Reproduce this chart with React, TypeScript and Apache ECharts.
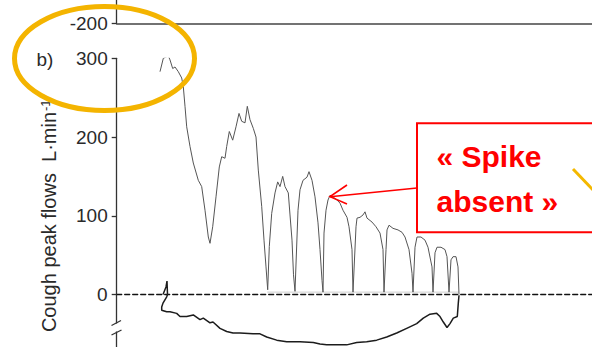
import React, { useEffect, useRef } from "react";
import * as echarts from "echarts";

// Tick values (main panel b and the bottom of panel a above it)
const flowTicks = [0, 100, 200, 300];
const upperPanelTicks = [-200];

// Cough (inspiratory -> expiratory) peak flow trace, time in arbitrary units (~10 ms)
const coughTime = [
  43.3, 46.6, 51.6, 53.3, 56, 58.3, 61.6, 65, 66.6, 68.3, 70, 73.3, 76.6, 81.6, 85, 88.3, 91.6, 93.3,
  96, 99.3, 102.6, 105, 108.3, 110, 112.6, 116, 119.3, 122.3, 125, 128.3, 130.6, 133.3, 136.6, 139.3,
  141.6, 145, 147.3, 149.3, 151, 152.6, 155, 158.3, 161, 163.3, 166, 168.3, 171.6, 173.3, 175.3, 176.8,
  178.3, 181.3, 183.3, 186.3, 190.3, 192.3, 195.3, 198.3, 201.3, 203.3, 205.3, 206.3, 207.3, 209.3,
  211.3, 213.3, 216.3, 220.3, 223.3, 226.3, 230.3, 232.3, 235.3, 236.3, 239.3, 240.3, 243.3, 246.3,
  248.3, 250.3, 255.3, 259.3, 263.3, 266.3, 267.3, 269.3, 270.3, 272.3, 276.3, 281.3, 285.3, 288.3,
  292.3, 295.3, 296.3, 298.3, 300.3, 304.3, 308.3, 311.3, 315.3, 316.3, 318.3, 320.3, 324.3, 328.3,
  330.3, 332.3, 334.3, 336.3, 339.3, 341.3, 342.3,
];
const coughFlow = [
  283, 300, 303, 298, 287, 289, 283, 275, 264, 239, 213, 188, 167, 145, 137, 107, 73, 65,
  86, 124, 162, 175, 173, 188, 207, 196, 213, 230, 220, 218, 239, 222, 211, 200,
  158, 112, 69, 35, 6, 61, 103, 129, 143, 137, 150, 137, 129, 101, 69, 25,
  4, 107, 133, 145, 149, 156, 145, 124, 91, 57, 18, 3, 78, 107,
  120, 126, 124, 120, 116, 107, 98, 86, 57, 3, 86, 97, 98, 101,
  105, 97, 92, 86, 78, 57, 3, 57, 82, 88, 84, 82, 79, 73,
  57, 27, 3, 60, 73, 73, 69, 60, 35, 3, 53, 60, 60, 57,
  48, 3, 44, 48, 48, 35, 0,
];

// Return (negative) flow trace below zero
const returnTime = [
  46.3, 49.3, 50.3, 50.8, 50, 46.3, 45, 45, 50, 53.3, 60, 63.3, 70, 73.3, 76.6, 83.3, 86.6, 93.3, 96.3,
  103.3, 110, 116.3, 123.3, 136.3, 143.3, 150, 160, 170, 183.3, 196.6, 203.3, 210, 223.3, 230, 240,
  250, 260, 270, 280, 290, 300, 306.6, 313.3, 320, 323.3, 326.6, 330.3, 333.3, 336.6, 340.6, 341.6, 342.3,
];
const returnFlow = [
  0, 9.5, 17, 0, -3, -11, -16, -20, -22, -22, -24, -28, -28, -27, -26, -32, -30, -36, -35,
  -43, -47, -49, -49, -50, -50, -54, -58, -60, -60, -61, -63, -64, -64, -64, -61,
  -60, -58, -54, -49, -43, -37, -30, -25, -24, -28, -35, -42, -37, -30, -28, -11, -1,
];

// faint zero-flow floor between coughs
const floorTime = [150.5, 342];
const floorFlow = [3, 3];

const FONT = "'Liberation Sans', Arial, Helvetica, sans-serif";
const INK = "#2a2a2a";

export default function App() {
  const ref = useRef<HTMLDivElement>(null);

  useEffect(() => {
    if (!ref.current) return;
    const chart = echarts.init(ref.current, undefined, { renderer: "svg" });
    const option: any = {
      animation: false,
      backgroundColor: "#ffffff",
      grid: [
        { left: 116.7, width: 475.3, top: 58.3, height: 314.9, outerBoundsMode: "none", containLabel: false },
        { left: 116.7, width: 475.3, top: -77, height: 100.3, outerBoundsMode: "none", containLabel: false },
      ],
      xAxis: [
        {
          type: "value",
          gridIndex: 0,
          min: 0,
          max: 475.3,
          axisLine: { show: true, onZero: true, lineStyle: { color: "#111", width: 1.3, type: [5, 3] } },
          axisTick: { show: false },
          axisLabel: { show: false },
          splitLine: { show: false },
        },
        {
          type: "value",
          gridIndex: 1,
          min: 0,
          max: 475.3,
          position: "bottom",
          axisLine: { show: true, onZero: false, lineStyle: { color: "#444", width: 1.5 } },
          axisTick: { show: false },
          axisLabel: { show: false },
          splitLine: { show: false },
        },
      ],
      yAxis: [
        {
          type: "value",
          gridIndex: 0,
          min: -100,
          max: 300,
          interval: 100,
          axisLine: { show: true, onZero: false, lineStyle: { color: "#333", width: 1.3 } },
          axisTick: { show: true, length: 5, lineStyle: { color: "#333", width: 1.3 } },
          axisLabel: {
            formatter: (v: number) => (flowTicks.includes(v) ? String(v) : ""),
            fontSize: 19,
            fontFamily: FONT,
            color: INK,
            margin: 9,
          },
          splitLine: { show: false },
          name: "Cough peak flows  L·min{sup|-1}",
          nameLocation: "middle",
          nameGap: 57,
          nameTextStyle: {
            fontSize: 20,
            fontFamily: FONT,
            color: INK,
            rich: {
              sup: { fontSize: 13, fontFamily: FONT, color: INK, verticalAlign: "top", padding: [0, 0, 8, 1] },
            },
          },
        },
        {
          type: "value",
          gridIndex: 1,
          min: -200,
          max: -100,
          interval: 100,
          axisLine: { show: true, onZero: false, lineStyle: { color: "#333", width: 1.3 } },
          axisTick: { show: true, length: 5, lineStyle: { color: "#333", width: 1.3 } },
          axisLabel: {
            formatter: (v: number) => (upperPanelTicks.includes(v) ? String(v) : ""),
            fontSize: 19,
            fontFamily: FONT,
            color: INK,
            margin: 9,
          },
          splitLine: { show: false },
        },
      ],
      series: [
        {
          type: "line",
          xAxisIndex: 0,
          yAxisIndex: 0,
          data: floorTime.map((t, i) => [t, floorFlow[i]]),
          symbol: "none",
          silent: true,
          lineStyle: { color: "#c4c4c4", width: 0.8 },
        },
        {
          type: "line",
          xAxisIndex: 0,
          yAxisIndex: 0,
          data: coughTime.map((t, i) => [t, coughFlow[i]]),
          symbol: "none",
          lineStyle: { color: "#555", width: 1 },
        },
        {
          type: "line",
          xAxisIndex: 0,
          yAxisIndex: 0,
          data: returnTime.map((t, i) => [t, returnFlow[i]]),
          symbol: "none",
          lineStyle: { color: "#1c1c1c", width: 1.5 },
        },
        {
          type: "line",
          xAxisIndex: 1,
          yAxisIndex: 1,
          data: [],
          symbol: "none",
        },
      ],
      graphic: [
        { type: "rect", z: 100, shape: { x: 113.5, y: 323.5, width: 6.5, height: 8 }, style: { fill: "#fff" } },
        { type: "line", z: 101, shape: { x1: 111.5, y1: 325.5, x2: 121, y2: 320.5 }, style: { stroke: "#333", lineWidth: 1.3 } },
        { type: "line", z: 101, shape: { x1: 111.5, y1: 335, x2: 121.5, y2: 330 }, style: { stroke: "#333", lineWidth: 1.3 } },
        {
          type: "text",
          z: 100,
          style: { text: "b)", x: 45, y: 59, align: "center", verticalAlign: "middle", fontSize: 19, fontFamily: FONT, fill: INK },
        },
        {
          type: "ellipse",
          z: 110,
          shape: { cx: 104.5, cy: 58.5, rx: 90, ry: 52 },
          style: { fill: "none", stroke: "#F4B400", lineWidth: 5 },
        },
        {
          type: "rect",
          z: 100,
          shape: { x: 417, y: 123.3, width: 200, height: 109 },
          style: { fill: "#fff", stroke: "#FF0000", lineWidth: 2 },
        },
        {
          type: "text",
          z: 101,
          style: { text: "« Spike", x: 436.5, y: 156.3, verticalAlign: "middle", fontSize: 30, fontWeight: "bold", fontFamily: FONT, fill: "#FF0000" },
        },
        {
          type: "text",
          z: 101,
          style: { text: "absent »", x: 436.5, y: 201.3, verticalAlign: "middle", fontSize: 30, fontWeight: "bold", fontFamily: FONT, fill: "#FF0000" },
        },
        { type: "line", z: 101, shape: { x1: 417, y1: 188, x2: 330, y2: 196.7 }, style: { stroke: "#FF0000", lineWidth: 1.6 } },
        {
          type: "polyline",
          z: 101,
          shape: { points: [[347, 185], [330, 196.7], [347, 204]] },
          style: { stroke: "#FF0000", lineWidth: 1.6, fill: "none" },
        },
        { type: "line", z: 101, shape: { x1: 573, y1: 169, x2: 594, y2: 191 }, style: { stroke: "#F4B800", lineWidth: 3 } },
      ],
    };
    chart.setOption(option);
    return () => chart.dispose();
  }, []);

  return (
    <div
      ref={ref}
      style={{ position: "fixed", left: 0, top: 0, width: 592, height: 347, background: "#fff" }}
    />
  );
}
